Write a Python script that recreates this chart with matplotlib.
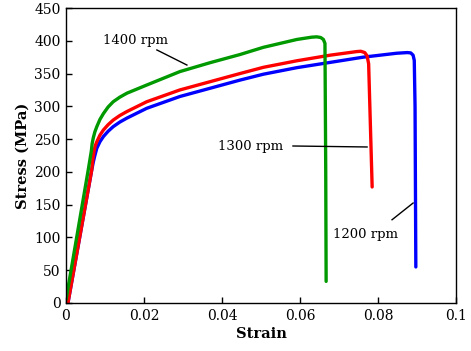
import matplotlib
matplotlib.use("Agg")
import matplotlib.pyplot as plt

# ---- data ----
strain_1400 = [0.0, 0.0057, 0.0065, 0.0067, 0.0070, 0.0074, 0.0079, 0.0087, 0.0096, 0.0108,
               0.0121, 0.0138, 0.0156, 0.0207, 0.0292, 0.0369, 0.0446, 0.0506, 0.0592, 0.0630,
               0.0643, 0.0653, 0.0660, 0.0664, 0.0666, 0.0667]
stress_1400 = [5, 203, 232, 243, 252, 261, 269, 280, 289, 299,
               307, 314, 320, 332.5, 353, 366.5, 379, 390, 402, 405.5,
               406, 405, 402, 396, 200, 33]

strain_1300 = [0.0005, 0.0066, 0.0069, 0.0072, 0.0075, 0.0079, 0.0087, 0.0096, 0.0108, 0.0121,
               0.0138, 0.0156, 0.0207, 0.0292, 0.0369, 0.0446, 0.0506, 0.0592, 0.0677, 0.0745,
               0.0756, 0.0766, 0.0772, 0.0776, 0.0785]
stress_1300 = [0, 203, 220, 232, 240, 246, 256, 264, 272, 279,
               286, 292, 307, 325, 337.5, 350, 359.5, 369.5, 378, 383.5,
               384, 382, 377, 365, 177]

strain_1200 = [0.0005, 0.0066, 0.0070, 0.0074, 0.0079, 0.0087, 0.0096, 0.0108, 0.0121, 0.0138,
               0.0156, 0.0207, 0.0292, 0.0369, 0.0446, 0.0506, 0.0592, 0.0677, 0.0762, 0.0848,
               0.0875, 0.0884, 0.0890, 0.0893, 0.0895, 0.0897]
stress_1200 = [0, 203, 215, 225, 236, 246, 254, 262, 269, 276,
               282, 297, 315, 327.5, 340, 349, 359, 367, 375, 381,
               382, 381.5, 378, 370, 300, 55]

x_ticks = [0, 0.02, 0.04, 0.06, 0.08, 0.1]
x_tick_labels = ["0", "0.02", "0.04", "0.06", "0.08", "0.1"]
y_ticks = [0, 50, 100, 150, 200, 250, 300, 350, 400, 450]

labels = ["1200 rpm", "1300 rpm", "1400 rpm"]
colors = ["#0000ff", "#ff0000", "#009a00"]

plt.rcParams['font.family'] = ['DejaVu Serif']

fig = plt.figure(figsize=(4.71, 3.51), dpi=100)
ax = fig.add_axes([66 / 471, 1 - 303 / 351, (456 - 66) / 471, (303 - 8) / 351])

lw = 2.4
ax.plot(strain_1200, stress_1200, color=colors[0], lw=lw, solid_joinstyle='round', solid_capstyle='round')
ax.plot(strain_1300, stress_1300, color=colors[1], lw=lw, solid_joinstyle='round', solid_capstyle='round')
ax.plot(strain_1400, stress_1400, color=colors[2], lw=lw, solid_joinstyle='round', solid_capstyle='round')

ax.set_xlim(0, 0.1)
ax.set_ylim(0, 450)
ax.set_xticks(x_ticks)
ax.set_xticklabels(x_tick_labels)
ax.set_yticks(y_ticks)
ax.tick_params(direction='in', length=4, width=1, labelsize=10, colors='black', pad=4)
for s in ax.spines.values():
    s.set_linewidth(1.0)

ax.set_xlabel("Strain", fontsize=10.5, fontweight='bold', labelpad=3)
ax.set_ylabel("Stress (MPa)", fontsize=10.5, fontweight='bold', labelpad=3)

# annotations
ann_kw = dict(fontsize=9.5, ha='center', va='center')
ax.text(0.0177, 401, labels[2], **ann_kw)
ax.plot([0.0233, 0.031], [386, 363], color='black', lw=1.0)
ax.text(0.0474, 238, labels[1], **ann_kw)
ax.plot([0.0582, 0.0772], [239.5, 238], color='black', lw=1.0)
ax.text(0.0769, 104, labels[0], **ann_kw)
ax.plot([0.0836, 0.089], [127, 152.5], color='black', lw=1.0)

fig.savefig("out.png", dpi=100)
